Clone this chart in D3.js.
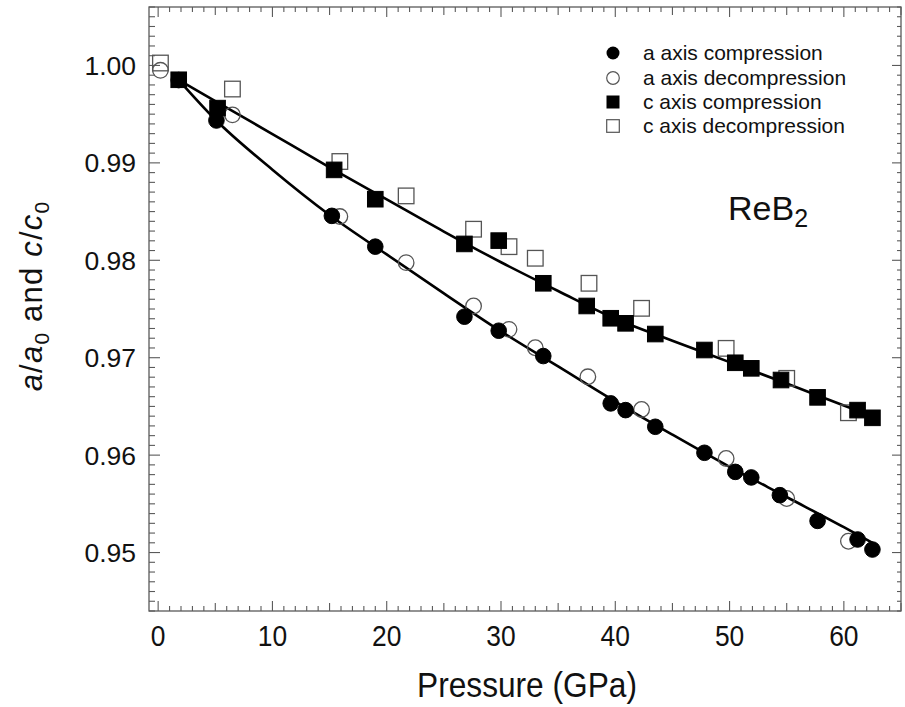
<!DOCTYPE html>
<html>
<head>
<meta charset="utf-8">
<script src="https://cdn.jsdelivr.net/npm/d3@7"></script>
<style>
  html, body { margin: 0; padding: 0; background: #fff; }
  svg { display: block; font-family: Arial, "Liberation Sans", Helvetica, sans-serif; }
</style>
</head>
<body>
<svg id="chart" width="905" height="707"></svg>
<script>
// Measured lattice ratios for ReB2 versus pressure (GPa)
const aCompP = [1.8, 5.1, 15.2, 19.0, 26.8, 29.8, 33.7, 39.6, 40.9, 43.5, 47.8, 50.5, 51.9, 54.4, 57.7, 61.2, 62.5];
const aCompV = [0.9985, 0.99435, 0.98456, 0.9814, 0.97421, 0.97277, 0.97017, 0.96531, 0.96462, 0.96291, 0.96024, 0.95828, 0.95771, 0.95589, 0.95325, 0.95134, 0.95031];

const aDecP = [0.2, 6.5, 15.9, 21.7, 27.6, 30.7, 33.0, 37.6, 42.3, 49.7, 55.0, 60.4];
const aDecV = [0.9995, 0.99493, 0.98449, 0.97976, 0.97531, 0.97291, 0.97102, 0.96804, 0.96469, 0.95966, 0.95555, 0.95116];

const cCompP = [1.8, 5.2, 15.4, 19.0, 26.8, 29.8, 33.7, 37.5, 39.6, 40.9, 43.5, 47.8, 50.5, 51.9, 54.5, 57.7, 61.2, 62.5];
const cCompV = [0.99853, 0.99562, 0.98928, 0.98627, 0.98168, 0.98202, 0.97764, 0.97531, 0.97405, 0.97353, 0.97243, 0.97079, 0.96948, 0.96891, 0.96771, 0.96593, 0.96462, 0.96383];

const cDecP = [0.2, 6.5, 15.9, 21.7, 27.6, 30.7, 33.0, 37.7, 42.3, 49.7, 55.0, 60.4];
const cDecV = [1.00025, 0.99758, 0.99014, 0.98661, 0.98319, 0.9814, 0.98021, 0.97764, 0.97507, 0.97096, 0.96788, 0.96435];

// Fitted equation-of-state curves
const aFitP = [1.8, 5, 10, 15, 20, 25, 30, 35, 40, 45, 50, 55, 60, 62.5];
const aFitV = [0.9985, 0.99445, 0.9893, 0.98465, 0.9806, 0.9766, 0.9727, 0.9691, 0.9655, 0.9621, 0.9588, 0.9557, 0.9526, 0.9510];
const cFitP = [1.8, 5, 10, 15, 20, 25, 30, 35, 40, 45, 50, 55, 60, 62.5];
const cFitV = [0.9985, 0.99635, 0.99295, 0.98955, 0.98625, 0.98295, 0.9798, 0.97685, 0.974, 0.97175, 0.96955, 0.96735, 0.9651, 0.964];

const xTickValues = [0, 10, 20, 30, 40, 50, 60];
const yTickValues = [0.95, 0.96, 0.97, 0.98, 0.99, 1.00];
const legendLabels = ["a axis compression", "a axis decompression", "c axis compression", "c axis decompression"];

const svg = d3.select("#chart");
const plotLeft = 149, plotRight = 901, plotTop = 7, plotBottom = 611;

const x = d3.scaleLinear().domain([-0.8, 65]).range([plotLeft, plotRight]);
const y = d3.scaleLinear().domain([0.944, 1.006]).range([plotBottom, plotTop]);

const frameColor = "#5a5a5a";

// Ticks: x every 1 GPa (5 medium, 10 major); y every 0.001 (0.01 major)
const xMinor = d3.range(0, 66, 1);
const yMinor = d3.range(944, 1007, 1).map(d => d / 1000);

function xLen(p) { return p % 10 === 0 ? 10 : (p % 5 === 0 ? 8 : 5); }
function yLen(v) { return Math.round(v * 1000) % 10 === 0 ? 10 : 5; }

const ticks = svg.append("g").attr("stroke", frameColor).attr("stroke-width", 1.1);
ticks.append("g").selectAll("line").data(xMinor).join("line")
  .attr("x1", d => x(d)).attr("x2", d => x(d))
  .attr("y1", plotBottom).attr("y2", d => plotBottom - xLen(d));
ticks.append("g").selectAll("line").data(xMinor).join("line")
  .attr("x1", d => x(d)).attr("x2", d => x(d))
  .attr("y1", plotTop).attr("y2", d => plotTop + xLen(d));
ticks.append("g").selectAll("line").data(yMinor).join("line")
  .attr("y1", d => y(d)).attr("y2", d => y(d))
  .attr("x1", plotLeft).attr("x2", d => plotLeft + yLen(d) + 1);
ticks.append("g").selectAll("line").data(yMinor).join("line")
  .attr("y1", d => y(d)).attr("y2", d => y(d))
  .attr("x1", plotRight).attr("x2", d => plotRight - yLen(d) + 1);

svg.append("rect")
  .attr("x", plotLeft).attr("y", plotTop)
  .attr("width", plotRight - plotLeft).attr("height", plotBottom - plotTop)
  .attr("fill", "none").attr("stroke", frameColor).attr("stroke-width", 1.3);

// Tick labels (x labels set in a slightly condensed face)
svg.append("g").selectAll("text").data(xTickValues).join("text")
  .attr("transform", d => `translate(${x(d)},646) scale(0.88,1)`)
  .attr("text-anchor", "middle")
  .attr("font-size", 30)
  .attr("fill", "#111")
  .text(d => d);

svg.append("g").selectAll("text").data(yTickValues).join("text")
  .attr("x", 136).attr("y", d => y(d) + 9.5)
  .attr("text-anchor", "end")
  .attr("font-size", 26.5)
  .attr("fill", "#111")
  .text(d => d3.format(".2f")(d));

// Axis titles
svg.append("text")
  .attr("transform", "translate(527,697) scale(0.88,1)")
  .attr("text-anchor", "middle")
  .attr("font-size", 36)
  .attr("fill", "#111")
  .text("Pressure (GPa)");

const yTitle = svg.append("text")
  .attr("transform", "translate(42,296) rotate(-90)")
  .attr("text-anchor", "middle")
  .attr("font-size", 31)
  .attr("letter-spacing", 1.2)
  .attr("fill", "#111");
yTitle.append("tspan").attr("font-style", "italic").text("a");
yTitle.append("tspan").text("/");
yTitle.append("tspan").attr("font-style", "italic").text("a");
yTitle.append("tspan").attr("font-size", 21).attr("dy", 7).text("0");
yTitle.append("tspan").attr("dy", -7).text(" and ");
yTitle.append("tspan").attr("font-style", "italic").text("c");
yTitle.append("tspan").text("/");
yTitle.append("tspan").attr("font-style", "italic").text("c");
yTitle.append("tspan").attr("font-size", 21).attr("dy", 7).text("0");

// Fit curves
const line = d3.line().x(d => x(d[0])).y(d => y(d[1])).curve(d3.curveMonotoneX);
svg.append("path").datum(d3.zip(aFitP, aFitV))
  .attr("d", line).attr("fill", "none").attr("stroke", "#000").attr("stroke-width", 2.6);
svg.append("path").datum(d3.zip(cFitP, cFitV))
  .attr("d", line).attr("fill", "none").attr("stroke", "#000").attr("stroke-width", 2.6);

// Markers
const half = 7.8, rad = 7.8;
function squares(P, V, filled) {
  svg.append("g").selectAll("rect").data(d3.zip(P, V)).join("rect")
    .attr("x", d => x(d[0]) - half).attr("y", d => y(d[1]) - half)
    .attr("width", half * 2).attr("height", half * 2)
    .attr("fill", filled ? "#000" : "none")
    .attr("stroke", filled ? "#000" : "#555")
    .attr("stroke-width", filled ? 1 : 1.3);
}
function circles(P, V, filled) {
  svg.append("g").selectAll("circle").data(d3.zip(P, V)).join("circle")
    .attr("cx", d => x(d[0])).attr("cy", d => y(d[1])).attr("r", rad)
    .attr("fill", filled ? "#000" : "none")
    .attr("stroke", filled ? "#000" : "#555")
    .attr("stroke-width", filled ? 1 : 1.3);
}
circles(aDecP, aDecV, false);
squares(cDecP, cDecV, false);
circles(aCompP, aCompV, true);
squares(cCompP, cCompV, true);

// Legend
const legend = svg.append("g");
const legendY = [53, 78, 102, 126];
const lx = 613;
legend.append("circle").attr("cx", lx).attr("cy", legendY[0]).attr("r", 6.5).attr("fill", "#000");
legend.append("circle").attr("cx", lx).attr("cy", legendY[1]).attr("r", 6.3).attr("fill", "none").attr("stroke", "#555").attr("stroke-width", 1.2);
legend.append("rect").attr("x", lx - 6.5).attr("y", legendY[2] - 6.5).attr("width", 13).attr("height", 13).attr("fill", "#000");
legend.append("rect").attr("x", lx - 6.3).attr("y", legendY[3] - 6.3).attr("width", 12.6).attr("height", 12.6).attr("fill", "none").attr("stroke", "#555").attr("stroke-width", 1.2);
legend.selectAll("text").data(legendLabels).join("text")
  .attr("x", 643).attr("y", (d, i) => legendY[i] + 7)
  .attr("font-size", 21)
  .attr("fill", "#111")
  .text(d => d);

// Compound label
const comp = svg.append("text").attr("x", 728).attr("y", 220).attr("font-size", 34).attr("fill", "#111");
comp.append("tspan").text("ReB");
comp.append("tspan").attr("font-size", 25).attr("dy", 7).text("2");
</script>
</body>
</html>
